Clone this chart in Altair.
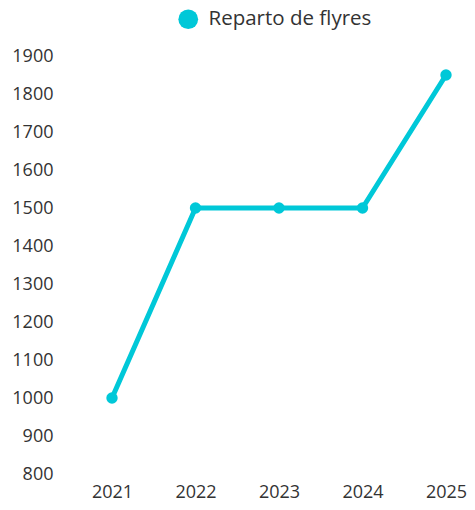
import altair as alt
import pandas as pd

years = ["2021", "2022", "2023", "2024", "2025"]
values = [1000, 1500, 1500, 1500, 1850]
series = ["Reparto de flyres"] * len(years)
colors = ["#00C8D8"]

df = pd.DataFrame({"year": years, "value": values, "series": series})

FONT = "Open Sans"

base = alt.Chart(df).encode(
    x=alt.X("year:O", sort=years, title=None,
            scale=alt.Scale(type="point", padding=0),
            axis=alt.Axis(labelAngle=0, ticks=False, domain=False, grid=False,
                          labelPadding=9, labelFontSize=18, labelColor="#333333",
                          labelFont=FONT)),
    y=alt.Y("value:Q", title=None,
            scale=alt.Scale(domain=[800, 1900], nice=False, zero=False),
            axis=alt.Axis(values=list(range(800, 2000, 100)), format="d", ticks=False,
                          domain=False, grid=False, labelPadding=59, labelFontSize=18,
                          labelColor="#333333", labelFont=FONT)),
    color=alt.Color("series:N", scale=alt.Scale(range=colors), title=None,
                    legend=alt.Legend(orient="none", legendX=66, legendY=-47,
                                      symbolType="circle", symbolSize=390,
                                      symbolStrokeWidth=0, symbolFillColor=colors[0],
                                      labelFontSize=20.5, labelFont=FONT, labelLimit=300,
                                      labelColor="#333333", labelOffset=10)),
)

line = base.mark_line(strokeWidth=5)
points = base.mark_point(filled=True, size=130, opacity=1)

chart = alt.layer(line, points).properties(
    width=334, height=418,
    autosize=alt.AutoSizeParams(type="none"),
    padding={"left": 104, "top": 48, "right": 21, "bottom": 28},
).configure_view(stroke=None)

chart.save("out.html", embed_options={"renderer": "svg", "actions": False})
